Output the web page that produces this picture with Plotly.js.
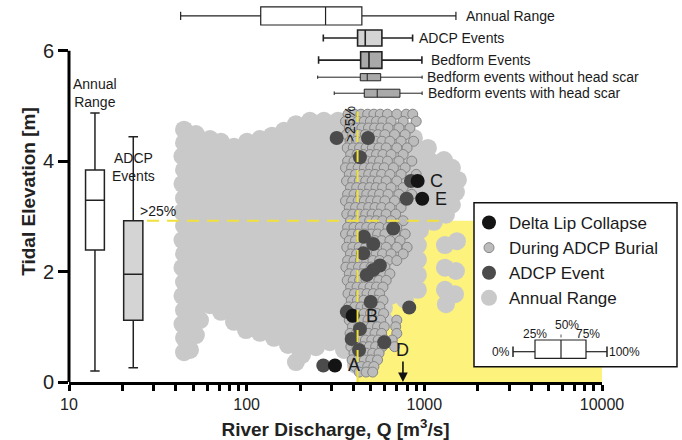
<!DOCTYPE html>
<html><head><meta charset="utf-8">
<script src="https://cdn.plot.ly/plotly-3.0.1.min.js"></script>
<style>html,body{margin:0;padding:0;background:#fff}#chart{width:682px;height:440px}</style>
</head><body><div id="chart"></div>
<script>
// ---------- DATA ----------
// Annual range cloud: outline of the dense hourly point cloud (discharge m3/s, tidal elevation m)
const cloudQ = [44.4,51.8,62.2,71.7,84.8,100.4,118.8,138.8,162.1,189.4,227,272,326.5,391,481.6,592,729,874,1048,1289,1430,1546,
  1506,1430,1323,1132,945,920,920,920,920,778,592,592,548,534,481.6,
  412,353,294,245.5,204.8,189.4,170.8,142.4,118.8,99.1,84.8,71.7,62.2,54.6,51.8,48.0,44.4,
  44.4,43.5,44.4,43.5,44.4,43.5,44.4,43.5,44.4,43.5,44.4,43.5,44.4,43.5,44.4];
const cloudH = [4.57,4.49,4.40,4.35,4.26,4.35,4.40,4.46,4.55,4.67,4.73,4.73,4.73,4.67,4.66,4.62,4.57,4.42,4.24,4.02,3.88,3.66,
  3.44,3.21,3.03,2.90,2.75,2.48,2.21,1.94,1.67,1.49,1.34,1.12,0.85,0.58,0.29,
  0.31,0.58,0.72,0.63,0.49,0.36,0.67,0.80,0.89,0.94,1.09,1.27,1.39,1.12,0.85,0.58,0.54,
  0.80,1.05,1.30,1.56,1.81,2.07,2.32,2.57,2.83,3.08,3.33,3.59,3.84,4.09,4.33];
// Annual range points standing apart from the cloud (high discharge)
const cloudOuterQ = [1306,1526,1306,1506,1306,1487,1323];
const cloudOuterH = [2.48,2.55,2.07,2.01,1.67,1.59,1.41];

// During ADCP burial: tidal elevation rows and the discharges in each row
const burialRowH = [4.85,4.72,4.60,4.48,4.36,4.24,4.12,4.00,3.88,3.76,3.64,3.52,3.40,3.28,3.16,3.04,2.92,2.80,2.68,2.56,
  2.44,2.32,2.20,2.08,1.96,1.84,1.72,1.60,1.48,1.36,1.24,1.12,1.00,0.88,0.76,0.64,0.52,0.40,0.28,0.18];
const burialRowQ = [
  [372,405,440,480,520,565,620,700,790,860],[360,390,422,458,497,538,585,650,760,900],
  [378,410,445,485,525,570,625,720,830],[365,395,428,465,505,548,600,680,780],
  [382,415,450,490,532,578,640,740,870],[368,398,432,470,510,555,610,700,800],
  [385,418,455,495,538,585,650,760],[370,402,436,475,515,560,620,720,850],
  [360,390,424,460,500,545,595,670,780],[378,410,446,486,528,575,640,740,900],
  [365,396,430,468,508,552,610,700],[384,416,452,492,535,582,650,760],
  [370,402,436,474,514,560,625,720,850],[360,390,424,460,500,545,600,680],
  [378,410,446,486,528,575,640,740],[366,396,430,468,508,552,610,690],
  [384,416,452,492,535,582,650,760],[370,402,436,474,514,560,625,700],
  [360,392,426,462,502,546,600,680,780],[378,410,446,486,528,575,640,730],
  [366,396,430,468,508,552,610,700,800],[384,416,452,492,535,582,650,760],
  [370,402,436,474,514,560,625,700],[362,392,426,462,502,546,600],
  [378,410,446,486,528,575,640],[368,398,432,470,510,555,610],
  [385,418,455,495,538,585],[372,404,438,476,516,560],
  [388,420,456,496,538,585],[375,406,440,478,518,562],
  [390,422,458,498,540,590],[378,410,444,482,522,568,700],
  [394,426,462,502,545,595,690],[382,414,448,486,528,575,700],
  [398,430,466,506,550,600,660],[386,418,452,490,532,580,680],
  [402,436,472,512,556],[392,424,460,500,545],[408,442,480,520],[430,470,512]];

// ADCP events
const adcpQ = [321,482,434,668,457,516,453,562,516,474,366,499,822,434,390,429,595,270,841,795];
const adcpH = [4.42,4.42,4.07,2.78,2.63,2.50,2.33,2.11,2.03,1.94,1.27,1.45,1.35,0.96,0.78,0.58,0.72,0.30,3.64,3.32];

// Delta lip collapse events
const lipLabels = ['A','B','C','E'];
const lipQ = [314,395,917,973];
const lipH = [0.30,1.20,3.64,3.32];
const lipNoTideLabel = 'D';
const lipNoTideQ = 758;

// Discharge box plots (top): 0%, 25%, 50%, 75%, 100%
const qBoxNames = ['Annual Range','ADCP Events','Bedform Events','Bedform events without head scar','Bedform events with head scar'];
const qBoxMin = [42.5,270,254,251,311];
const qBoxQ1  = [120,421,438,436,459];
const qBoxMed = [278,465,488,477,543];
const qBoxQ3  = [445,577,577,568,729];
const qBoxMax = [1506,859,969,972,972];

// Tidal elevation box plots (left)
const hBoxNames = ['Annual<br>Range','ADCP<br>Events'];
const hBoxMin = [0.20,0.26];
const hBoxQ1  = [2.39,1.12];
const hBoxMed = [3.29,1.95];
const hBoxQ3  = [3.84,2.92];
const hBoxMax = [4.87,4.44];

// Axis ticks
const xTickVals = [10,100,1000,10000];
const xTickText = ['10','100','1000','10000'];
const xMinorVals = [20,30,40,50,60,70,80,90,200,300,400,500,600,700,800,900,2000,3000,4000,5000,6000,7000,8000,9000];
const yTickVals = [0,2,4,6];

// ---------- LAYOUT / STYLE ----------
const FONT = 'Liberation Sans, Arial, sans-serif';
const TXT = '#1a1a1a';
const GRAY = '#c9c9c9';
const qBoxRow = [6.63,6.23,5.83,5.52,5.23];
const qBoxThick = [0.33,0.29,0.30,0.13,0.145];
const qBoxFill = ['#ffffff','#d4d4d4','#a9a9a9','#a9a9a9','#a9a9a9'];
const qBoxLine = [1.2,1.6,1.6,1.0,1.0];
const qBoxShift = [8,4,7,3,4];
const hBoxPos = [14,23];
const hBoxThickLog = [0.106,0.108];
const hBoxFill = ['#ffffff','#d4d4d4'];

const burialQ = [], burialH = [];
burialRowQ.forEach((row,i)=>row.forEach(q=>{burialQ.push(q);burialH.push(burialRowH[i]);}));

const traces = [];
traces.push({type:'scatter',mode:'lines',x:cloudQ,y:cloudH,fill:'toself',fillcolor:GRAY,
  line:{width:0,color:GRAY},showlegend:false,hoverinfo:'skip'});
traces.push({type:'scatter',mode:'markers',x:cloudQ,y:cloudH,
  marker:{size:18,color:GRAY},showlegend:false,hoverinfo:'skip'});
traces.push({type:'scatter',mode:'markers',x:cloudOuterQ,y:cloudOuterH,name:'Annual Range',legendrank:4,
  marker:{size:18,color:GRAY}});
traces.push({type:'scatter',mode:'markers',x:burialQ,y:burialH,name:'During ADCP Burial',legendrank:2,
  marker:{size:10,symbol:'circle',color:'#bcbcbc',line:{width:1,color:'#858585'}}});
traces.push({type:'scatter',mode:'markers',x:adcpQ,y:adcpH,name:'ADCP Event',legendrank:3,
  marker:{size:14,color:'#4b4b4b'}});
traces.push({type:'scatter',mode:'markers',x:lipQ,y:lipH,name:'Delta Lip Collapse',legendrank:1,
  marker:{size:14,color:'#141414'}});

qBoxNames.forEach((n,i)=>{
  traces.push({type:'box',orientation:'h',y:[qBoxRow[i]],q1:[qBoxQ1[i]],median:[qBoxMed[i]],q3:[qBoxQ3[i]],
    lowerfence:[qBoxMin[i]],upperfence:[qBoxMax[i]],width:qBoxThick[i],whiskerwidth:0.45,
    fillcolor:qBoxFill[i],line:{color:'#222',width:qBoxLine[i]},boxpoints:false,showlegend:false,hoverinfo:'skip',name:n});
});
hBoxNames.forEach((n,i)=>{
  traces.push({type:'box',orientation:'v',x:[hBoxPos[i]],q1:[hBoxQ1[i]],median:[hBoxMed[i]],q3:[hBoxQ3[i]],
    lowerfence:[hBoxMin[i]],upperfence:[hBoxMax[i]],width:hBoxThickLog[i],whiskerwidth:0.5,
    fillcolor:hBoxFill[i],line:{color:'#222',width:1.5},boxpoints:false,showlegend:false,hoverinfo:'skip',name:n});
});

const ann = [];
qBoxNames.forEach((n,i)=>ann.push({x:Math.log10(qBoxMax[i]),y:qBoxRow[i],xref:'x',yref:'y',text:n,showarrow:false,
  xanchor:'left',yanchor:'middle',xshift:qBoxShift[i],font:{family:FONT,size:14,color:TXT}}));
ann.push({x:Math.log10(hBoxPos[0]),y:hBoxMax[0],text:hBoxNames[0],showarrow:false,yanchor:'bottom',yshift:1,
  font:{family:FONT,size:14,color:TXT}});
ann.push({x:Math.log10(hBoxPos[1]),y:3.89,text:hBoxNames[1],showarrow:false,yanchor:'middle',
  font:{family:FONT,size:14,color:TXT}});
ann.push({x:Math.log10(24.4),y:hBoxQ3[1],text:'>25%',showarrow:false,xanchor:'left',yanchor:'bottom',yshift:0,
  font:{family:FONT,size:14,color:TXT}});
ann.push({x:Math.log10(qBoxQ1[1]),y:4.66,text:'>25%',showarrow:false,textangle:-90,xanchor:'right',yanchor:'middle',xshift:2,
  font:{family:FONT,size:14,color:TXT}});
lipLabels.forEach((l,i)=>ann.push({x:Math.log10(lipQ[i]),y:lipH[i],text:l,showarrow:false,xanchor:'center',xshift:19,
  font:{family:FONT,size:18,color:TXT}}));
ann.push({x:Math.log10(lipNoTideQ),y:0,text:lipNoTideLabel,showarrow:true,arrowhead:2,arrowsize:1.2,arrowwidth:1.6,
  arrowcolor:'#111',ax:0,ay:-32,font:{family:FONT,size:18,color:TXT}});

// legend box glyph (paper coordinates)
const px2x = p => (p-69)/533, py2y = p => (382-p)/381;
const mini = [
  {t:'0%',x:512,y:352,xa:'right'},{t:'100%',x:607,y:352,xa:'left'},
  {t:'25%',x:535,y:334,xa:'center'},{t:'50%',x:567,y:325,xa:'center'},{t:'75%',x:588,y:334,xa:'center'}];
mini.forEach(m=>ann.push({xref:'paper',yref:'paper',x:px2x(m.x),y:py2y(m.y),text:m.t,showarrow:false,
  xanchor:m.xa,yanchor:'middle',font:{family:FONT,size:12,color:TXT}}));

// shapes on the log x axis take data values
const dashCol = '#f1e13a';
const shapes = [
  {type:'rect',xref:'x',yref:'y',x0:qBoxQ1[1],x1:10000,y0:0,y1:hBoxQ3[1],fillcolor:'#fcf27c',line:{width:0},layer:'below'},
  {type:'line',xref:'x',yref:'y',x0:27.5,x1:1300,y0:hBoxQ3[1],y1:hBoxQ3[1],line:{color:dashCol,width:2,dash:'12px,8px'},layer:'above'},
  {type:'line',xref:'x',yref:'y',x0:qBoxQ1[1],x1:qBoxQ1[1],y0:0,y1:4.9,line:{color:dashCol,width:2,dash:'12px,8px'},layer:'above'},
  {type:'line',xref:'paper',yref:'y',x0:0,x1:0,y0:0,y1:6,line:{color:'#000',width:3},layer:'above'},
  {type:'rect',xref:'paper',yref:'paper',x0:px2x(474),x1:px2x(677),y0:py2y(366.7),y1:py2y(202.7),fillcolor:'#fff',line:{color:'#111',width:1.5},layer:'above'},
  {type:'line',xref:'paper',yref:'paper',x0:px2x(513),x1:px2x(535),y0:py2y(351.7),y1:py2y(351.7),line:{color:'#222',width:1.2},layer:'above'},
  {type:'line',xref:'paper',yref:'paper',x0:px2x(586),x1:px2x(607),y0:py2y(351.7),y1:py2y(351.7),line:{color:'#222',width:1.2},layer:'above'},
  {type:'line',xref:'paper',yref:'paper',x0:px2x(513),x1:px2x(513),y0:py2y(346.5),y1:py2y(357),line:{color:'#222',width:1.5},layer:'above'},
  {type:'line',xref:'paper',yref:'paper',x0:px2x(607),x1:px2x(607),y0:py2y(346.5),y1:py2y(357),line:{color:'#222',width:1.5},layer:'above'},
  {type:'rect',xref:'paper',yref:'paper',x0:px2x(535),x1:px2x(586),y0:py2y(358.3),y1:py2y(340),fillcolor:'#fff',line:{color:'#222',width:1.2},layer:'above'},
  {type:'line',xref:'paper',yref:'paper',x0:px2x(561),x1:px2x(561),y0:py2y(358.3),y1:py2y(340),line:{color:'#222',width:1.2},layer:'above'},
  {type:'line',xref:'paper',yref:'paper',x0:px2x(561),x1:px2x(561),y0:py2y(337.5),y1:py2y(332),line:{color:'#555',width:1,dash:'dot'},layer:'above'}
];

const layout = {
  width:682,height:440,margin:{l:69,r:80,t:1,b:58},paper_bgcolor:'#fff',plot_bgcolor:'rgba(0,0,0,0)',
  font:{family:FONT,color:TXT},boxmode:'overlay',
  xaxis:{type:'log',range:[1,4],showline:true,linewidth:3,linecolor:'#000',ticks:'outside',ticklen:6,tickwidth:3,tickcolor:'#000',
    tickmode:'array',tickvals:xTickVals,ticktext:xTickText,tickfont:{family:FONT,size:16,color:'#222'},
    minor:{tickmode:'array',tickvals:xMinorVals,ticks:'outside',ticklen:6,tickwidth:3,tickcolor:'#000',showgrid:false},
    showgrid:false,zeroline:false,automargin:false,
    title:{text:'<b>River Discharge, Q [m<sup>3</sup>/s]</b>',font:{family:FONT,size:19,color:'#222'},standoff:11}},
  yaxis:{range:[0,6.9],showline:false,ticks:'outside',ticklen:10,tickwidth:3,tickcolor:'#000',tickmode:'array',tickvals:yTickVals,
    tickfont:{family:FONT,size:20,color:'#222'},showgrid:false,zeroline:false,automargin:false,
    title:{text:'<b>Tidal Elevation [m]</b>',font:{family:FONT,size:19,color:'#222'},standoff:2}},
  showlegend:true,
  legend:{x:px2x(469),y:py2y(205),xanchor:'left',yanchor:'top',bgcolor:'rgba(0,0,0,0)',borderwidth:0,
    font:{family:FONT,size:17,color:TXT},tracegroupgap:0},
  annotations:ann,shapes:shapes
};
Plotly.newPlot('chart',traces,layout,{displayModeBar:false,staticPlot:true});
</script></body></html>
